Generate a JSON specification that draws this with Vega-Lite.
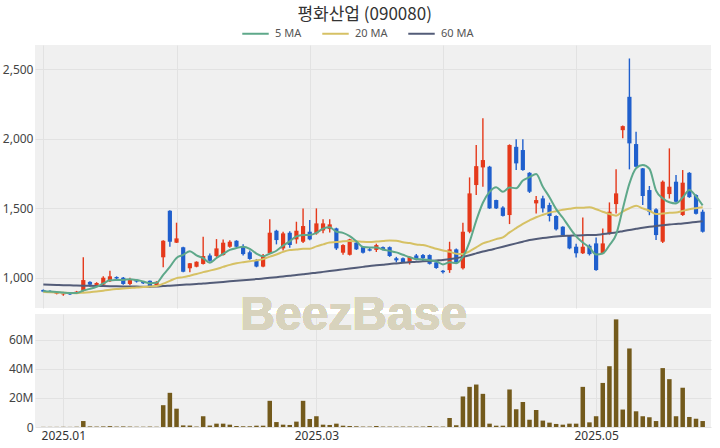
{
  "$schema": "https://vega.github.io/schema/vega-lite/v6.json",
  "background": "white",
  "padding": {"left": 2, "top": 6, "right": 5, "bottom": 5},
  "title": {"text": "평화산업 (090080)", "font": "Noto Sans CJK KR", "fontSize": 17, "fontWeight": "normal", "color": "#333333", "anchor": "middle", "offset": -5, "dx": 8},
  "config": {
    "view": {"fill": "#f0f0f0", "stroke": null},
    "axis": {"gridColor": "#e2e2e2", "gridWidth": 1, "domain": false, "ticks": false, "labelFont": "Noto Sans", "labelFontSize": 12, "labelColor": "#444444", "title": null, "labelOverlap": false}
  },
  "datasets": {
    "d": [
      {"i":0,"o":912,"h":915,"l":895,"c":900,"v":100000,"m5":905,"m20":898,"m60":952},
      {"i":1,"o":905,"h":910,"l":890,"c":895,"v":100000,"m5":900,"m20":896,"m60":950},
      {"i":2,"o":885,"h":898,"l":880,"c":893,"v":100000,"m5":897,"m20":894,"m60":948},
      {"i":3,"o":880,"h":888,"l":870,"c":885,"v":150000,"m5":893,"m20":892,"m60":946},
      {"i":4,"o":885,"h":892,"l":876,"c":880,"v":100000,"m5":890.6,"m20":890,"m60":945},
      {"i":5,"o":890,"h":905,"l":885,"c":900,"v":200000,"m5":890.6,"m20":889,"m60":944},
      {"i":6,"o":906,"h":1148,"l":900,"c":983,"v":4100000,"m5":908.2,"m20":892,"m60":943},
      {"i":7,"o":970,"h":975,"l":935,"c":950,"v":400000,"m5":919.6,"m20":896,"m60":942},
      {"i":8,"o":948,"h":968,"l":940,"c":962,"v":300000,"m5":935,"m20":901,"m60":941},
      {"i":9,"o":950,"h":1010,"l":945,"c":1000,"v":400000,"m5":959,"m20":907,"m60":940},
      {"i":10,"o":975,"h":1050,"l":970,"c":1010,"v":600000,"m5":981,"m20":913,"m60":939},
      {"i":11,"o":1005,"h":1010,"l":985,"c":995,"v":300000,"m5":983.4,"m20":918,"m60":938},
      {"i":12,"o":1000,"h":1005,"l":950,"c":955,"v":400000,"m5":984.4,"m20":922,"m60":937},
      {"i":13,"o":955,"h":1000,"l":945,"c":983,"v":300000,"m5":988.6,"m20":926,"m60":936},
      {"i":14,"o":985,"h":990,"l":965,"c":972,"v":200000,"m5":983,"m20":930,"m60":936},
      {"i":15,"o":970,"h":975,"l":955,"c":960,"v":200000,"m5":973,"m20":933,"m60":935},
      {"i":16,"o":978,"h":980,"l":930,"c":935,"v":300000,"m5":961,"m20":936,"m60":935},
      {"i":17,"o":947,"h":975,"l":940,"c":970,"v":200000,"m5":964,"m20":940,"m60":936},
      {"i":18,"o":1147,"h":1270,"l":1075,"c":1266,"v":15000000,"m5":1020.6,"m20":957,"m60":940},
      {"i":19,"o":1482,"h":1485,"l":1223,"c":1259,"v":23500000,"m5":1078,"m20":977.7,"m60":943},
      {"i":20,"o":1252,"h":1396,"l":1250,"c":1283,"v":12600000,"m5":1142.6,"m20":996.8,"m60":946},
      {"i":21,"o":1219,"h":1222,"l":1040,"c":1043,"v":1100000,"m5":1164.2,"m20":1004.2,"m60":949},
      {"i":22,"o":1068,"h":1106,"l":1039,"c":1104,"v":1000000,"m5":1191,"m20":1014.8,"m60":952},
      {"i":23,"o":1079,"h":1118,"l":1075,"c":1115,"v":300000,"m5":1160.8,"m20":1026.3,"m60":955},
      {"i":24,"o":1099,"h":1295,"l":1095,"c":1156,"v":7400000,"m5":1140.2,"m20":1040.1,"m60":958},
      {"i":25,"o":1160,"h":1175,"l":1115,"c":1122,"v":1000000,"m5":1108,"m20":1051.2,"m60":962},
      {"i":26,"o":1156,"h":1278,"l":1150,"c":1211,"v":2300000,"m5":1141.6,"m20":1062.6,"m60":966},
      {"i":27,"o":1163,"h":1275,"l":1160,"c":1252,"v":2300000,"m5":1171.2,"m20":1077.7,"m60":970},
      {"i":28,"o":1223,"h":1270,"l":1215,"c":1259,"v":1600000,"m5":1200,"m20":1092.5,"m60":974},
      {"i":29,"o":1266,"h":1270,"l":1210,"c":1223,"v":700000,"m5":1213.4,"m20":1103.7,"m60":978},
      {"i":30,"o":1223,"h":1240,"l":1160,"c":1170,"v":500000,"m5":1223,"m20":1111.7,"m60":982},
      {"i":31,"o":1183,"h":1195,"l":1130,"c":1135,"v":500000,"m5":1207.8,"m20":1118.7,"m60":986},
      {"i":32,"o":1127,"h":1135,"l":1075,"c":1080,"v":900000,"m5":1173.4,"m20":1124.9,"m60":990},
      {"i":33,"o":1080,"h":1170,"l":1075,"c":1160,"v":900000,"m5":1153.6,"m20":1133.8,"m60":994},
      {"i":34,"o":1176,"h":1420,"l":1170,"c":1324,"v":18000000,"m5":1173.8,"m20":1151.4,"m60":999},
      {"i":35,"o":1338,"h":1345,"l":1240,"c":1271,"v":3400000,"m5":1194,"m20":1166.9,"m60":1004},
      {"i":36,"o":1211,"h":1330,"l":1195,"c":1319,"v":1600000,"m5":1230.8,"m20":1186.1,"m60":1009},
      {"i":37,"o":1324,"h":1335,"l":1215,"c":1235,"v":1400000,"m5":1261.8,"m20":1199.4,"m60":1014},
      {"i":38,"o":1276,"h":1403,"l":1245,"c":1338,"v":3700000,"m5":1297.4,"m20":1203,"m60":1019},
      {"i":39,"o":1259,"h":1499,"l":1250,"c":1372,"v":18000000,"m5":1307,"m20":1208.6,"m60":1025},
      {"i":40,"o":1331,"h":1415,"l":1270,"c":1276,"v":5500000,"m5":1308,"m20":1208.3,"m60":1031},
      {"i":41,"o":1319,"h":1499,"l":1310,"c":1391,"v":7400000,"m5":1322.4,"m20":1225.7,"m60":1036},
      {"i":42,"o":1340,"h":1420,"l":1320,"c":1391,"v":1600000,"m5":1353.6,"m20":1240,"m60":1042},
      {"i":43,"o":1350,"h":1420,"l":1325,"c":1384,"v":1400000,"m5":1362.8,"m20":1253.5,"m60":1048},
      {"i":44,"o":1355,"h":1360,"l":1200,"c":1211,"v":2300000,"m5":1330.6,"m20":1256.2,"m60":1054},
      {"i":45,"o":1180,"h":1240,"l":1165,"c":1235,"v":900000,"m5":1322.4,"m20":1261.9,"m60":1060},
      {"i":46,"o":1165,"h":1280,"l":1160,"c":1276,"v":700000,"m5":1299.4,"m20":1265.1,"m60":1066},
      {"i":47,"o":1252,"h":1258,"l":1200,"c":1204,"v":500000,"m5":1262,"m20":1262.7,"m60":1072},
      {"i":48,"o":1220,"h":1228,"l":1175,"c":1180,"v":300000,"m5":1221.2,"m20":1258.8,"m60":1078},
      {"i":49,"o":1205,"h":1215,"l":1190,"c":1195,"v":300000,"m5":1218,"m20":1257.4,"m60":1084},
      {"i":50,"o":1200,"h":1245,"l":1185,"c":1235,"v":700000,"m5":1218,"m20":1260.6,"m60":1089},
      {"i":51,"o":1220,"h":1225,"l":1195,"c":1200,"v":300000,"m5":1202.8,"m20":1263.9,"m60":1094},
      {"i":52,"o":1220,"h":1225,"l":1150,"c":1156,"v":300000,"m5":1193.2,"m20":1267.7,"m60":1099},
      {"i":53,"o":1140,"h":1150,"l":1110,"c":1125,"v":300000,"m5":1182.2,"m20":1265.9,"m60":1103},
      {"i":54,"o":1140,"h":1145,"l":1105,"c":1110,"v":300000,"m5":1165.2,"m20":1255.2,"m60":1107},
      {"i":55,"o":1110,"h":1155,"l":1095,"c":1150,"v":300000,"m5":1148.2,"m20":1249.2,"m60":1111},
      {"i":56,"o":1160,"h":1170,"l":1125,"c":1130,"v":300000,"m5":1134.2,"m20":1239.7,"m60":1115},
      {"i":57,"o":1163,"h":1170,"l":1115,"c":1140,"v":300000,"m5":1131,"m20":1235,"m60":1118},
      {"i":58,"o":1163,"h":1168,"l":1095,"c":1100,"v":700000,"m5":1126,"m20":1223.1,"m60":1121},
      {"i":59,"o":1110,"h":1115,"l":1065,"c":1070,"v":300000,"m5":1118,"m20":1208,"m60":1124},
      {"i":60,"o":1050,"h":1055,"l":1030,"c":1040,"v":300000,"m5":1096,"m20":1196.2,"m60":1127},
      {"i":61,"o":1055,"h":1259,"l":1035,"c":1204,"v":6200000,"m5":1110.8,"m20":1186.8,"m60":1134},
      {"i":62,"o":1204,"h":1210,"l":1100,"c":1110,"v":1200000,"m5":1104.8,"m20":1172.8,"m60":1140},
      {"i":63,"o":1068,"h":1396,"l":1060,"c":1331,"v":21000000,"m5":1151,"m20":1170.1,"m60":1150},
      {"i":64,"o":1331,"h":1722,"l":1320,"c":1607,"v":27600000,"m5":1258.4,"m20":1189.9,"m60":1162},
      {"i":65,"o":1667,"h":1955,"l":1595,"c":1803,"v":29200000,"m5":1411,"m20":1218.3,"m60":1175},
      {"i":66,"o":1794,"h":2147,"l":1655,"c":1847,"v":22800000,"m5":1539.6,"m20":1246.9,"m60":1188},
      {"i":67,"o":1799,"h":1805,"l":1495,"c":1499,"v":2300000,"m5":1617.4,"m20":1261.6,"m60":1199},
      {"i":68,"o":1559,"h":1562,"l":1495,"c":1499,"v":900000,"m5":1651,"m20":1277.6,"m60":1211},
      {"i":69,"o":1505,"h":1515,"l":1440,"c":1445,"v":900000,"m5":1618.6,"m20":1290.1,"m60":1223},
      {"i":70,"o":1451,"h":1960,"l":1386,"c":1955,"v":25800000,"m5":1649,"m20":1326.1,"m60":1235},
      {"i":71,"o":1942,"h":1996,"l":1775,"c":1823,"v":12200000,"m5":1644.2,"m20":1357.2,"m60":1247},
      {"i":72,"o":1919,"h":1996,"l":1770,"c":1775,"v":17200000,"m5":1699.4,"m20":1388.2,"m60":1259},
      {"i":73,"o":1755,"h":1760,"l":1610,"c":1619,"v":5000000,"m5":1723.4,"m20":1412.9,"m60":1271},
      {"i":74,"o":1535,"h":1588,"l":1463,"c":1559,"v":11700000,"m5":1746.2,"m20":1435.3,"m60":1279},
      {"i":75,"o":1571,"h":1590,"l":1470,"c":1499,"v":4400000,"m5":1655,"m20":1452.8,"m60":1286},
      {"i":76,"o":1523,"h":1540,"l":1405,"c":1444,"v":3000000,"m5":1579.2,"m20":1468.5,"m60":1292},
      {"i":77,"o":1444,"h":1450,"l":1340,"c":1348,"v":2100000,"m5":1493.8,"m20":1478.9,"m60":1297},
      {"i":78,"o":1367,"h":1370,"l":1300,"c":1307,"v":1600000,"m5":1431.4,"m20":1489.2,"m60":1300},
      {"i":79,"o":1300,"h":1305,"l":1205,"c":1211,"v":2300000,"m5":1361.8,"m20":1496.3,"m60":1302},
      {"i":80,"o":1223,"h":1245,"l":1145,"c":1176,"v":2300000,"m5":1297.2,"m20":1503.1,"m60":1304},
      {"i":81,"o":1176,"h":1434,"l":1170,"c":1223,"v":27600000,"m5":1253,"m20":1504,"m60":1306},
      {"i":82,"o":1230,"h":1240,"l":1160,"c":1170,"v":3200000,"m5":1217.4,"m20":1507,"m60":1307},
      {"i":83,"o":1247,"h":1290,"l":1050,"c":1055,"v":7400000,"m5":1167,"m20":1493.2,"m60":1308},
      {"i":84,"o":1176,"h":1355,"l":1170,"c":1247,"v":30300000,"m5":1174.2,"m20":1475.2,"m60":1314},
      {"i":85,"o":1319,"h":1542,"l":1310,"c":1475,"v":41800000,"m5":1234,"m20":1458.8,"m60":1320},
      {"i":86,"o":1530,"h":1780,"l":1463,"c":1607,"v":74000000,"m5":1310.8,"m20":1446.8,"m60":1326},
      {"i":87,"o":2062,"h":2095,"l":2003,"c":2091,"v":12000000,"m5":1495,"m20":1476.4,"m60":1335},
      {"i":88,"o":2302,"h":2578,"l":1780,"c":1967,"v":54000000,"m5":1677.4,"m20":1499.8,"m60":1344},
      {"i":89,"o":1962,"h":2050,"l":1795,"c":1799,"v":10800000,"m5":1787.8,"m20":1517.5,"m60":1352},
      {"i":90,"o":1787,"h":1790,"l":1523,"c":1588,"v":7400000,"m5":1810.4,"m20":1499.2,"m60":1360},
      {"i":91,"o":1631,"h":1660,"l":1450,"c":1475,"v":6700000,"m5":1784,"m20":1481.8,"m60":1367},
      {"i":92,"o":1492,"h":1500,"l":1271,"c":1307,"v":4100000,"m5":1627.2,"m20":1458.4,"m60":1373},
      {"i":93,"o":1259,"h":1700,"l":1250,"c":1691,"v":40500000,"m5":1572,"m20":1462,"m60":1378},
      {"i":94,"o":1602,"h":1931,"l":1570,"c":1655,"v":32900000,"m5":1543.2,"m20":1466.8,"m60":1383},
      {"i":95,"o":1691,"h":1740,"l":1540,"c":1547,"v":7400000,"m5":1535,"m20":1469.2,"m60":1387},
      {"i":96,"o":1451,"h":1775,"l":1445,"c":1684,"v":27000000,"m5":1576.8,"m20":1481.2,"m60":1391},
      {"i":97,"o":1755,"h":1760,"l":1575,"c":1580,"v":6900000,"m5":1631.4,"m20":1492.8,"m60":1396},
      {"i":98,"o":1595,"h":1600,"l":1455,"c":1460,"v":5700000,"m5":1585.2,"m20":1500.4,"m60":1401},
      {"i":99,"o":1475,"h":1490,"l":1325,"c":1331,"v":4100000,"m5":1520.4,"m20":1506.4,"m60":1406}
    ]
  },
  "spacing": 6,
  "bounds": "flush",
  "resolve": {"scale": {"color": "independent"}, "legend": {"color": "independent"}},
  "vconcat": [
    {
      "width": 676,
      "height": 263,
      "data": {"name": "d"},
      "encoding": {
        "x": {"field": "i", "type": "quantitative", "scale": {"domain": [-0.5, 99.5], "nice": false, "zero": false}, "axis": {"values": [0, 20, 40, 60, 80], "labels": false, "grid": true}}
      },
      "layer": [
        {
          "mark": {"type": "rule", "strokeWidth": 1.4},
          "encoding": {
            "y": {"field": "l", "type": "quantitative", "scale": {"domain": [782, 2675], "nice": false, "zero": false}, "axis": {"values": [1000, 1500, 2000, 2500], "format": ",d", "labelPadding": 2}},
            "y2": {"field": "h"},
            "color": {"condition": {"test": "datum.c >= datum.o", "value": "#e5391b"}, "value": "#1f5fcd"}
          }
        },
        {
          "mark": {"type": "bar", "size": 4.2},
          "encoding": {
            "y": {"field": "o", "type": "quantitative", "axis": {"values": [1000, 1500, 2000, 2500], "format": ",d", "labelPadding": 2}},
            "y2": {"field": "c"},
            "color": {"condition": {"test": "datum.c >= datum.o", "value": "#e5391b"}, "value": "#1f5fcd"}
          }
        },
        {
          "mark": {"type": "line", "strokeWidth": 2, "interpolate": "monotone"},
          "encoding": {
            "y": {"field": "m60", "type": "quantitative", "axis": {"values": [1000, 1500, 2000, 2500], "format": ",d", "labelPadding": 2}},
            "color": {
              "datum": "60 MA",
              "type": "nominal",
              "scale": {"domain": ["5 MA", "20 MA", "60 MA"], "range": ["#5ea88a", "#d6c164", "#535c78"]},
              "legend": {"orient": "none", "legendX": 206, "legendY": -26, "direction": "horizontal", "title": null, "symbolType": "stroke", "symbolSize": 700, "symbolStrokeWidth": 2, "labelFont": "Noto Sans", "labelFontSize": 11, "labelColor": "#555555", "columnPadding": 16, "labelOffset": 5}
            }
          }
        },
        {
          "mark": {"type": "line", "strokeWidth": 2, "interpolate": "monotone"},
          "encoding": {
            "y": {"field": "m20", "type": "quantitative", "axis": {"values": [1000, 1500, 2000, 2500], "format": ",d", "labelPadding": 2}},
            "color": {"datum": "20 MA", "type": "nominal"}
          }
        },
        {
          "mark": {"type": "line", "strokeWidth": 2, "interpolate": "monotone"},
          "encoding": {
            "y": {"field": "m5", "type": "quantitative", "axis": {"values": [1000, 1500, 2000, 2500], "format": ",d", "labelPadding": 2}},
            "color": {"datum": "5 MA", "type": "nominal"}
          }
        }
      ]
    },
    {
      "width": 676,
      "height": 113,
      "data": {"name": "d"},
      "layer": [
        {
          "mark": {"type": "bar", "size": 4.5, "color": "#735a1c"},
          "encoding": {
            "x": {"field": "i", "type": "quantitative", "scale": {"domain": [-0.5, 99.5], "nice": false, "zero": false}, "axis": {"values": [3, 41, 83], "labelExpr": "datum.value == 3 ? '2025.01' : datum.value == 41 ? '2025.03' : '2025.05'", "grid": true, "labelFlush": false, "labelPadding": 3, "labelColor": "#333333"}},
            "y": {"field": "v", "type": "quantitative", "scale": {"domain": [0, 77700000], "nice": false}, "axis": {"values": [0, 20000000, 40000000, 60000000], "labelExpr": "datum.value == 0 ? '0' : format(datum.value / 1000000, 'd') + 'M'", "labelPadding": 2, "labelFlush": false, "labelOverlap": false, "grid": true}}
          }
        },
        {
          "mark": {"type": "text", "text": "BeezBase", "font": "Liberation Sans", "fontWeight": "bold", "fontSize": 48, "color": "#d8d3bd", "align": "center", "baseline": "alphabetic"},
          "encoding": {
            "x": {"datum": 46.6, "type": "quantitative", "axis": {"values": [3, 41, 83], "labelExpr": "datum.value == 3 ? '2025.01' : datum.value == 41 ? '2025.03' : '2025.05'", "grid": true, "labelFlush": false, "labelPadding": 3, "labelColor": "#333333"}},
            "y": {"datum": 67000000, "type": "quantitative", "axis": {"values": [0, 20000000, 40000000, 60000000], "labelExpr": "datum.value == 0 ? '0' : format(datum.value / 1000000, 'd') + 'M'", "labelPadding": 2, "labelFlush": false, "labelOverlap": false, "grid": true}}
          }
        }
      ]
    }
  ]
}
